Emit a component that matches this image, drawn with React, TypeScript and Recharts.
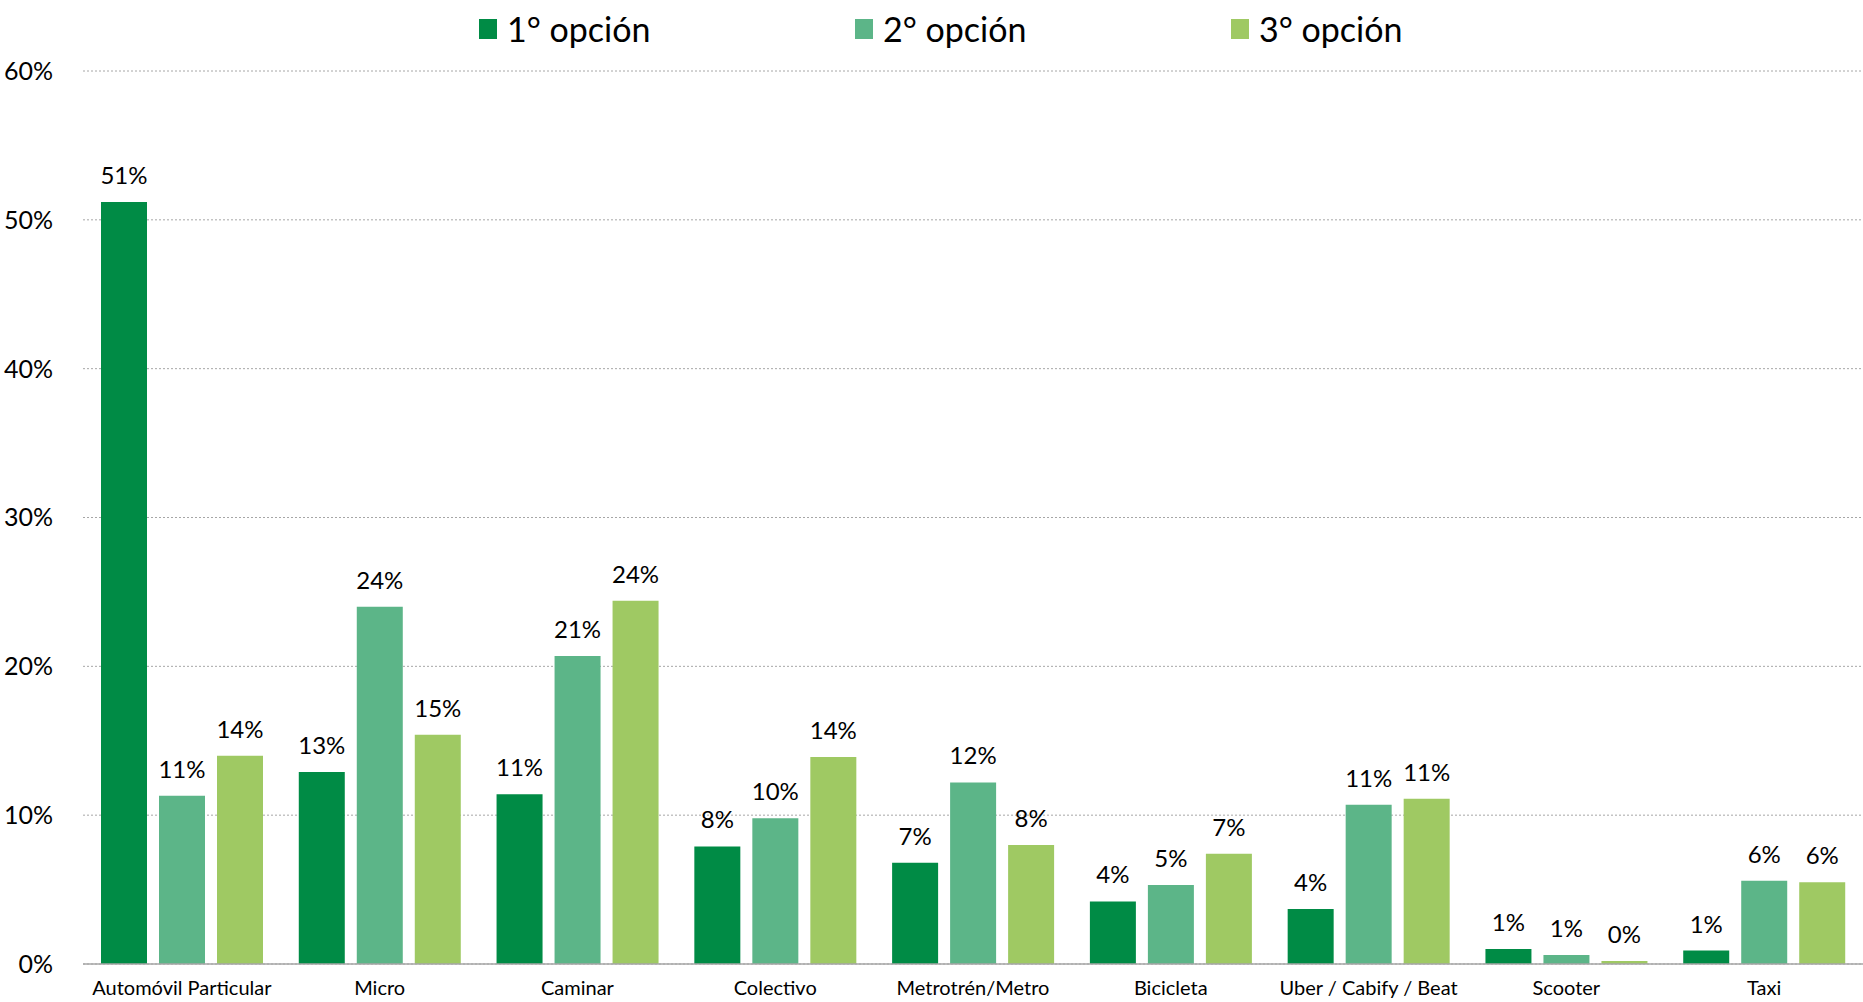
import React from 'react';
import { BarChart, Bar, XAxis, YAxis, CartesianGrid, Legend, LabelList } from 'recharts';

const categories = [
  'Automóvil Particular',
  'Micro',
  'Caminar',
  'Colectivo',
  'Metrotrén/Metro',
  'Bicicleta',
  'Uber / Cabify / Beat',
  'Scooter',
  'Taxi',
];

const primera = [51.2, 12.9, 11.4, 7.9, 6.8, 4.2, 3.7, 1.0, 0.9];
const segunda = [11.3, 24.0, 20.7, 9.8, 12.2, 5.3, 10.7, 0.6, 5.6];
const tercera = [14.0, 15.4, 24.4, 13.9, 8.0, 7.4, 11.1, 0.2, 5.5];

const seriesNames = ['1° opción', '2° opción', '3° opción'];
const yTicks = [0, 10, 20, 30, 40, 50, 60];

const COLORS = ['#008b45', '#5cb588', '#9fc963'];
const FONT = "Lato, 'Open Sans', sans-serif";

const data = categories.map((name, i) => ({
  name,
  s1: primera[i],
  s2: segunda[i],
  s3: tercera[i],
}));

const pct = (v: any) => `${Math.round(Number(v))}%`;

function LegendContent({ payload }: any) {
  return (
    <div style={{ display: 'flex', fontFamily: FONT }}>
      {(payload || []).map((p: any) => (
        <div key={p.value} style={{ width: 376, display: 'flex', alignItems: 'center' }}>
          <span style={{ width: 18, height: 20, background: p.color, display: 'inline-block', marginRight: 10 }} />
          <span style={{ fontSize: 34, color: '#000', lineHeight: '40px' }}>{p.value}</span>
        </div>
      ))}
    </div>
  );
}

export default function App() {
  return (
    <div style={{ position: 'fixed', left: 0, top: 0, width: 1863, height: 1002, background: '#fff' }}>
      <BarChart
        width={1863}
        height={1002}
        data={data}
        margin={{ top: 31, right: 0, left: 0, bottom: 0 }}
        barGap={12}
        barSize={46}
      >
        <CartesianGrid vertical={false} stroke="#a6a6a6" strokeDasharray="2 2" />
        <XAxis
          dataKey="name"
          height={38}
          tickLine={false}
          tickSize={0}
          tickMargin={17}
          axisLine={{ stroke: '#a6a6a6', strokeWidth: 1.5 }}
          tick={{ fill: '#000', fontSize: 20, fontFamily: FONT }}
          interval={0}
        />
        <YAxis
          width={83}
          domain={[0, 60]}
          ticks={yTicks}
          tickFormatter={pct}
          axisLine={false}
          tickLine={false}
          tickSize={0}
          tickMargin={30}
          tick={{ fill: '#000', fontSize: 25, fontFamily: FONT }}
        />
        <Legend
          verticalAlign="top"
          align="left"
          height={40}
          wrapperStyle={{ top: 9, left: 479, width: 1200 }}
          content={<LegendContent />}
        />
        <Bar dataKey="s1" name={seriesNames[0]} fill={COLORS[0]} isAnimationActive={false}>
          <LabelList dataKey="s1" position="top" offset={18} formatter={pct} style={{ fill: '#000', fontSize: 24, fontFamily: FONT }} />
        </Bar>
        <Bar dataKey="s2" name={seriesNames[1]} fill={COLORS[1]} isAnimationActive={false}>
          <LabelList dataKey="s2" position="top" offset={18} formatter={pct} style={{ fill: '#000', fontSize: 24, fontFamily: FONT }} />
        </Bar>
        <Bar dataKey="s3" name={seriesNames[2]} fill={COLORS[2]} isAnimationActive={false}>
          <LabelList dataKey="s3" position="top" offset={18} formatter={pct} style={{ fill: '#000', fontSize: 24, fontFamily: FONT }} />
        </Bar>
      </BarChart>
    </div>
  );
}
